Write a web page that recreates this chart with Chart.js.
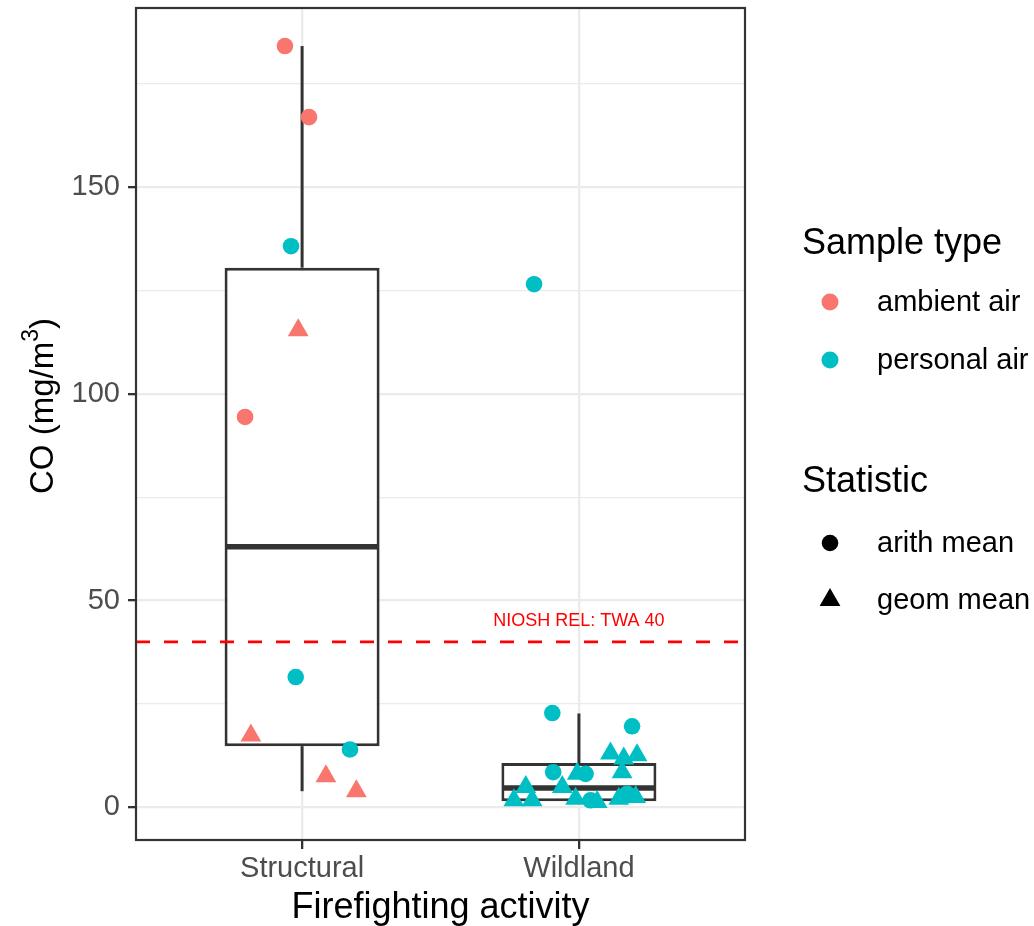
<!DOCTYPE html>
<html>
<head>
<meta charset="utf-8">
<script src="https://cdn.jsdelivr.net/npm/chart.js@4.4.1/dist/chart.umd.min.js"></script>
<style>
  html, body { margin: 0; padding: 0; background: #ffffff; }
  #wrap { width: 1034px; height: 926px; }
</style>
</head>
<body>
<div id="wrap"><canvas id="coChart" width="1034" height="926"></canvas></div>
<script>
const activities = ['Structural', 'Wildland'];
const sampleTypes = ['ambient air', 'personal air'];
const statistics = ['arith mean', 'geom mean'];

// one entry per sample; jitter is the horizontal offset from the category
const sampleActivity = [
  'Structural', 'Structural', 'Structural', 'Structural', 'Structural',
  'Structural', 'Structural', 'Structural', 'Structural', 'Structural',
  'Wildland', 'Wildland', 'Wildland', 'Wildland', 'Wildland',
  'Wildland', 'Wildland', 'Wildland', 'Wildland', 'Wildland',
  'Wildland', 'Wildland', 'Wildland', 'Wildland', 'Wildland',
  'Wildland', 'Wildland', 'Wildland', 'Wildland', 'Wildland'
];
const sampleType = [
  'ambient air', 'ambient air', 'personal air', 'ambient air', 'ambient air',
  'personal air', 'ambient air', 'personal air', 'ambient air', 'ambient air',
  'personal air', 'personal air', 'personal air', 'personal air', 'personal air',
  'personal air', 'personal air', 'personal air', 'personal air', 'personal air',
  'personal air', 'personal air', 'personal air', 'personal air', 'personal air',
  'personal air', 'personal air', 'personal air', 'personal air', 'personal air'
];
const sampleStat = [
  'arith mean', 'arith mean', 'arith mean', 'geom mean', 'arith mean',
  'arith mean', 'geom mean', 'arith mean', 'geom mean', 'geom mean',
  'arith mean', 'arith mean', 'arith mean', 'geom mean', 'geom mean',
  'geom mean', 'geom mean', 'arith mean', 'geom mean', 'arith mean',
  'geom mean', 'geom mean', 'geom mean', 'geom mean', 'geom mean',
  'arith mean', 'geom mean', 'geom mean', 'arith mean', 'geom mean'
];
const sampleCO = [
  184.1, 166.9, 135.7, 115.4, 94.4,
  31.5, 17.4, 14.0, 7.5, 3.9,
  126.5, 22.8, 19.6, 13.0, 11.8,
  12.6, 8.5, 8.5, 8.1, 8.1,
  4.9, 4.9, 1.7, 1.7, 2.1,
  1.7, 1.3, 2.1, 3.3, 2.5
];
const sampleJitter = [
  -0.062, 0.025, -0.040, -0.014, -0.206,
  -0.023, -0.185, 0.173, 0.086, 0.196,
  -0.162, -0.096, 0.192, 0.114, 0.162,
  0.210, 0.156, -0.093, -0.006, 0.024,
  -0.192, -0.060, -0.235, -0.169, -0.012,
  0.042, 0.066, 0.144, 0.174, 0.205
];

// box plot summary per activity
const boxLower  = [3.9, 1.3];
const boxQ1     = [14.8, 1.5];
const boxMedian = [63.0, 4.7];
const boxQ3     = [130.5, 10.7];
const boxUpper  = [184.1, 22.7];

const yTicks = [0, 25, 50, 75, 100, 125, 150, 175];
const yLabelled = [0, 50, 100, 150];

const relLimit = 40;
const relText = 'NIOSH REL: TWA 40';

const typeColors = { 'ambient air': '#F8766D', 'personal air': '#00BFC4' };
const statShapes = { 'arith mean': { style: 'circle', r: 8.3 }, 'geom mean': { style: 'triangle', r: 12 } };
const BOX_WIDTH = 0.55;
const FONT = '"Liberation Sans", Arial, Helvetica, sans-serif';
const INK = '#333333';

Chart.defaults.font.family = FONT;

const datasets = [];

// jittered points, one dataset per type/statistic pair
sampleTypes.forEach(t => {
  statistics.forEach(s => {
    const pts = [];
    sampleCO.forEach((v, i) => {
      if (sampleType[i] === t && sampleStat[i] === s) {
        pts.push({ x: activities.indexOf(sampleActivity[i]) + 1 + sampleJitter[i], y: v });
      }
    });
    datasets.push({
      type: 'scatter',
      label: t + ' / ' + s,
      data: pts,
      pointStyle: statShapes[s].style,
      pointRadius: statShapes[s].r,
      pointBackgroundColor: typeColors[t],
      pointBorderWidth: 0,
      order: 0
    });
  });
});

// reference line
datasets.push({
  type: 'line',
  data: [{ x: 0.4, y: relLimit }, { x: 2.6, y: relLimit }],
  borderColor: '#FF0000',
  borderWidth: 2.6,
  borderDash: [14, 14],
  pointRadius: 0,
  order: 1
});

activities.forEach((a, i) => {
  const c = i + 1;
  // median
  datasets.push({
    type: 'line',
    data: [{ x: c - BOX_WIDTH / 2, y: boxMedian[i] }, { x: c + BOX_WIDTH / 2, y: boxMedian[i] }],
    borderColor: INK, borderWidth: 5.5, pointRadius: 0, order: 2
  });
  // whiskers
  datasets.push({
    type: 'line',
    data: [{ x: c, y: boxQ3[i] }, { x: c, y: boxUpper[i] }],
    borderColor: INK, borderWidth: 3, pointRadius: 0, order: 2
  });
  datasets.push({
    type: 'line',
    data: [{ x: c, y: boxLower[i] }, { x: c, y: boxQ1[i] }],
    borderColor: INK, borderWidth: 3, pointRadius: 0, order: 2
  });
});

// boxes (q1..q3)
datasets.push({
  type: 'bar',
  data: activities.map((a, i) => ({ x: i + 1, y: [boxQ1[i], boxQ3[i]] })),
  backgroundColor: '#FFFFFF',
  borderColor: INK,
  borderWidth: 3,
  borderSkipped: false,
  categoryPercentage: 1,
  barPercentage: BOX_WIDTH + 0.01,
  order: 3
});

const decorations = {
  id: 'decorations',
  afterDraw(chart) {
    const { ctx, chartArea: area, scales: { x, y } } = chart;
    ctx.save();

    // annotation text
    ctx.font = '18px ' + FONT;
    ctx.fillStyle = '#FF0000';
    ctx.textAlign = 'center';
    ctx.textBaseline = 'middle';
    ctx.fillText(relText, x.getPixelForValue(2), y.getPixelForValue(45));

    // panel border
    ctx.strokeStyle = INK;
    ctx.lineWidth = 2.2;
    ctx.strokeRect(area.left, area.top, area.right - area.left, area.bottom - area.top);

    // x title
    ctx.fillStyle = '#000000';
    ctx.font = '36px ' + FONT;
    ctx.textAlign = 'center';
    ctx.textBaseline = 'alphabetic';
    ctx.fillText('Firefighting activity', (area.left + area.right) / 2, 918);

    // y title with superscript
    ctx.save();
    ctx.translate(53, 406);
    ctx.rotate(-Math.PI / 2);
    ctx.textAlign = 'left';
    const big = '33px ' + FONT, small = '23px ' + FONT;
    ctx.font = big;
    const w1 = ctx.measureText('CO (mg/m').width;
    const w3 = ctx.measureText(')').width;
    ctx.font = small;
    const w2 = ctx.measureText('3').width;
    const s = -(w1 + w2 + w3) / 2;
    ctx.font = big;
    ctx.fillText('CO (mg/m', s, 0);
    ctx.font = small;
    ctx.fillText('3', s + w1, -15);
    ctx.font = big;
    ctx.fillText(')', s + w1 + w2, 0);
    ctx.restore();

    // legends
    ctx.textAlign = 'left';
    ctx.font = '36px ' + FONT;
    ctx.fillStyle = '#000000';
    ctx.textBaseline = 'alphabetic';
    ctx.fillText('Sample type', 802, 254);
    ctx.fillText('Statistic', 802, 492);

    ctx.font = '29px ' + FONT;
    ctx.textBaseline = 'middle';
    sampleTypes.forEach((t, i) => {
      const cy = 302 + i * 58;
      ctx.fillStyle = typeColors[t];
      ctx.beginPath();
      ctx.arc(830, cy, 8.5, 0, Math.PI * 2);
      ctx.fill();
      ctx.fillStyle = '#000000';
      ctx.fillText(t, 877, cy + 1);
    });
    statistics.forEach((s2, i) => {
      const cy = 543 + i * 57;
      ctx.fillStyle = '#000000';
      Chart.helpers.drawPoint(ctx, { pointStyle: statShapes[s2].style, radius: statShapes[s2].r, borderWidth: 0 }, 830, cy);
      ctx.fillText(s2, 877, cy + 1);
    });

    ctx.restore();
  }
};

const ctx = document.getElementById('coChart').getContext('2d');
new Chart(ctx, {
  type: 'scatter',
  data: { datasets },
  options: {
    responsive: false,
    animation: false,
    devicePixelRatio: 1,
    layout: { autoPadding: false, padding: { left: 0, top: 8, right: 289, bottom: 0 } },
    plugins: { legend: { display: false }, tooltip: { enabled: false } },
    scales: {
      x: {
        type: 'linear',
        min: 0.4,
        max: 2.6,
        offset: false,
        afterBuildTicks: (scale) => { scale.ticks = activities.map((a, i) => ({ value: i + 1 })); },
        afterFit: (scale) => { scale.height = 86; scale.paddingLeft = 0; scale.paddingRight = 0; },
        ticks: {
          autoSkip: false,
          maxRotation: 0,
          padding: 3,
          color: '#4D4D4D',
          font: { size: 29 },
          callback: (v) => activities[v - 1]
        },
        grid: {
          offset: false,
          color: '#EBEBEB',
          lineWidth: 2.3,
          tickColor: INK,
          tickLength: 9,
          tickWidth: 2.3
        },
        border: { display: false }
      },
      y: {
        type: 'linear',
        min: -7.9,
        max: 193.3,
        afterBuildTicks: (scale) => { scale.ticks = yTicks.map(v => ({ value: v })); },
        afterFit: (scale) => { scale.width = 136; scale.paddingTop = 0; scale.paddingBottom = 0; },
        ticks: {
          autoSkip: false,
          padding: 8,
          color: '#4D4D4D',
          font: { size: 29 },
          callback: (v) => yLabelled.includes(v) ? String(v) : ''
        },
        grid: {
          color: '#EBEBEB',
          lineWidth: (c) => (c.tick && yLabelled.includes(c.tick.value)) ? 2.3 : 1.2,
          tickColor: (c) => (c.tick && yLabelled.includes(c.tick.value)) ? INK : 'rgba(0,0,0,0)',
          tickLength: 8,
          tickWidth: 2.3
        },
        border: { display: false }
      }
    }
  },
  plugins: [decorations]
});
</script>
</body>
</html>
